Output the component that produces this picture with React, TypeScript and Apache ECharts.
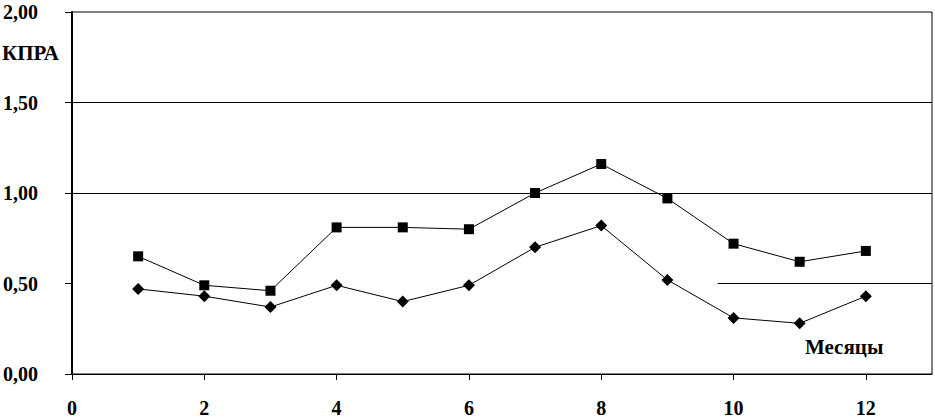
import React, { useEffect, useRef } from "react";
import * as echarts from "echarts";

const months = [1, 2, 3, 4, 5, 6, 7, 8, 9, 10, 11, 12];
const squareValues = [0.65, 0.49, 0.46, 0.81, 0.81, 0.8, 1.0, 1.16, 0.97, 0.72, 0.62, 0.68];
const diamondValues = [0.47, 0.43, 0.37, 0.49, 0.4, 0.49, 0.7, 0.82, 0.52, 0.31, 0.28, 0.43];
const yAxisTitle = "КПРА";
const xAxisTitle = "Месяцы";

const FONT = "'Liberation Serif', 'Times New Roman', serif";

export default function App() {
  const ref = useRef<HTMLDivElement>(null);
  useEffect(() => {
    if (!ref.current) return;
    const chart = echarts.init(ref.current, null, { renderer: "svg" });
    const labelStyle = { color: "#000", fontFamily: FONT, fontWeight: "bold", fontSize: 20 };
    chart.setOption({
      animation: false,
      backgroundColor: "#fff",
      grid: { left: 71, top: 12, right: 3, bottom: 40, show: true, borderColor: "#000", borderWidth: 1, backgroundColor: "transparent" },
      xAxis: {
        type: "value",
        min: 0,
        max: 13,
        interval: 2,
        axisLine: { lineStyle: { color: "#000", width: 1 } },
        axisTick: { show: true, length: 6, lineStyle: { color: "#000" } },
        splitLine: { show: false },
        axisLabel: {
          ...labelStyle,
          margin: 24,
          showMaxLabel: false,
          formatter: (v: number) => (v === 13 ? "" : String(v)),
        },
      },
      yAxis: {
        type: "value",
        min: 0,
        max: 2,
        interval: 0.5,
        axisLine: { show: true, lineStyle: { color: "#000", width: 2 } },
        axisTick: { show: true, length: 7, lineStyle: { color: "#000" } },
        splitLine: { show: false },
        axisLabel: {
          ...labelStyle,
          margin: 34,
          formatter: (v: number) => v.toFixed(2).replace(".", ","),
        },
      },
      series: [
        {
          type: "line",
          data: months.map((m, i) => [m, squareValues[i]]),
          symbol: "rect",
          symbolSize: 10,
          itemStyle: { color: "#000" },
          lineStyle: { color: "#000", width: 1 },
          markLine: {
            silent: true,
            symbol: "none",
            label: { show: false },
            lineStyle: { color: "#000", width: 1, type: "solid" },
            data: [
              [{ coord: [0, 1.5] }, { coord: [13, 1.5] }],
              [{ coord: [0, 1.0] }, { coord: [13, 1.0] }],
              [{ coord: [9.76, 0.5] }, { coord: [13, 0.5] }],
            ],
          },
        },
        {
          type: "line",
          data: months.map((m, i) => [m, diamondValues[i]]),
          symbol: "diamond",
          symbolSize: 12,
          itemStyle: { color: "#000" },
          lineStyle: { color: "#000", width: 1 },
        },
      ],
      graphic: [
        { type: "text", left: 2, top: 42, style: { text: yAxisTitle, fill: "#000", font: `bold 21px ${FONT}` } },
        { type: "text", left: 805, top: 336, style: { text: xAxisTitle, fill: "#000", font: `bold 21px ${FONT}` } },
      ],
    });
    return () => chart.dispose();
  }, []);
  return <div ref={ref} style={{ width: 935, height: 418, position: "absolute", left: 0, top: 0 }} />;
}
